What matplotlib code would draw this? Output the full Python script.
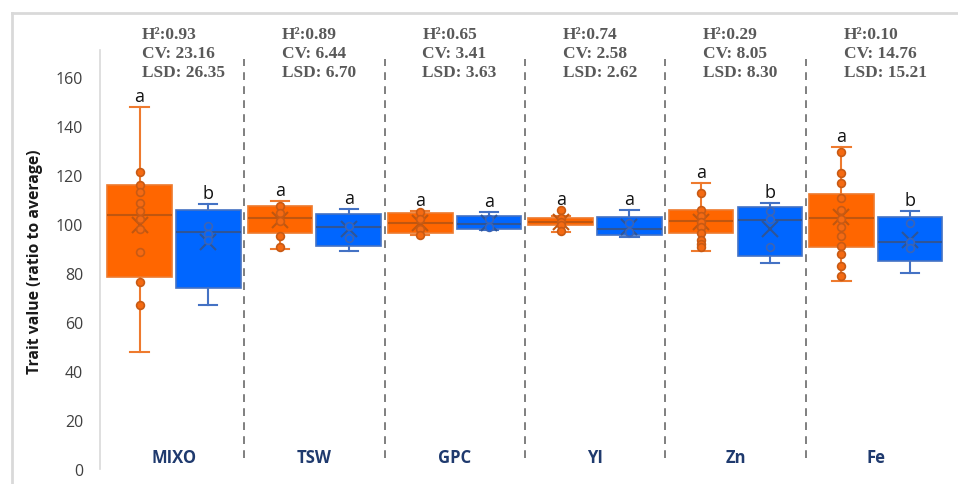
import matplotlib
matplotlib.use("Agg")
import matplotlib.pyplot as plt
from matplotlib.lines import Line2D

# ---- data -------------------------------------------------------------
categories = ["MIXO", "TSW", "GPC", "YI", "Zn", "Fe"]
h2 = [0.93, 0.89, 0.65, 0.74, 0.29, 0.10]
cv = [23.16, 6.44, 3.41, 2.58, 8.05, 14.76]
lsd = [26.35, 6.70, 3.63, 2.62, 8.30, 15.21]

# orange group: whisker low, Q1, median, Q3, whisker high, mean
orange_whislo = [47.6, 89.8, 95.5, 96.6, 88.8, 76.9]
orange_q1 = [78.5, 96.2, 96.2, 99.6, 96.2, 90.5]
orange_med = [103.5, 102.4, 100.3, 101.0, 101.3, 102.4]
orange_q3 = [115.9, 107.2, 104.5, 102.3, 105.8, 112.2]
orange_whishi = [147.6, 109.2, 105.3, 103.4, 116.6, 131.3]
orange_mean = [99.5, 101.6, 100.4, 101.0, 101.0, 102.7]
orange_points = [
    [121.4, 115.9, 112.9, 108.4, 105.4, 102.0, 98.0, 88.4, 76.2, 67.1],
    [107.5, 104.4, 101.3, 95.2, 90.7],
    [104.8, 102.0, 98.0, 95.5],
    [105.8, 102.5, 101.0, 99.5, 97.3],
    [112.5, 105.7, 103.4, 100.7, 98.9, 96.2, 93.6, 91.8, 90.5],
    [129.3, 120.8, 116.6, 110.6, 105.8, 102.0, 98.6, 95.0, 91.1, 87.8, 83.0, 78.9],
]
orange_letters = ["a", "a", "a", "a", "a", "a"]

# blue group
blue_whislo = [67.1, 88.8, 97.6, 94.8, 84.1, 79.9]
blue_q1 = [74.0, 91.1, 98.0, 95.5, 87.1, 84.8]
blue_med = [96.9, 98.6, 100.0, 98.0, 101.6, 92.5]
blue_q3 = [105.8, 104.1, 103.1, 102.7, 106.8, 102.7]
blue_whishi = [108.2, 106.1, 104.8, 105.8, 108.4, 105.2]
blue_mean = [92.5, 98.0, 100.4, 98.6, 98.0, 93.6]
blue_points = [
    [99.0, 96.0, 93.5],
    [99.3, 94.2],
    [102.0, 98.6],
    [100.4, 96.6],
    [105.4, 102.0, 90.5],
    [100.3, 92.5, 90.1],
]
blue_letters = ["b", "a", "a", "a", "b", "b"]

y_ticks = [0, 20, 40, 60, 80, 100, 120, 140, 160]

# ---- styling ----------------------------------------------------------
SANS = ["Open Sans", "DejaVu Sans"]
SERIF = ["Liberation Serif", "DejaVu Serif"]

ORANGE = dict(fill="#FF6600", edge="#EE7A2E", median="#C0560F",
              whisker="#EE7A2E", pt_face="#F56A12", pt_edge="#C85A14")
BLUE = dict(fill="#0066FF", edge="#4472C4", median="#2F5597",
            whisker="#4472C4", pt_face="#0066FF", pt_edge="#3C64B4")

fig = plt.figure(figsize=(9.58, 4.85), dpi=100)
ax = fig.add_axes([100 / 958, 1 - 470 / 485, 846 / 958, 418.95 / 485])
ax.set_xlim(-0.527, 5.5)
ax.set_ylim(0, 171)

# outer frame (only top and left sides fall inside the canvas)
fig.add_artist(Line2D([12 / 958, 12 / 958], [0, 1 - 14 / 485],
                      transform=fig.transFigure, color="#D9D9D9", lw=2))
fig.add_artist(Line2D([12 / 958, 1], [1 - 14 / 485, 1 - 14 / 485],
                      transform=fig.transFigure, color="#D9D9D9", lw=2))

OFFSET = 0.245
WIDTH = 0.46


def draw_group(xpos, whislo, q1, med, q3, whishi, mean, points, letters, sty):
    stats = []
    for i in range(len(xpos)):
        stats.append(dict(whislo=whislo[i], q1=q1[i], med=med[i], q3=q3[i],
                          whishi=whishi[i], mean=mean[i], fliers=[]))
    ax.bxp(stats, positions=xpos, widths=WIDTH, patch_artist=True,
           showmeans=True, showfliers=False, capwidths=0.13,
           boxprops=dict(facecolor=sty["fill"], edgecolor=sty["edge"], lw=1.2),
           medianprops=dict(color=sty["median"], lw=1.5),
           whiskerprops=dict(color=sty["whisker"], lw=1.5),
           capprops=dict(color=sty["whisker"], lw=1.5),
           meanprops=dict(marker="x", markersize=12, markeredgewidth=1.5,
                          markeredgecolor=sty["median"], markerfacecolor="none"),
           zorder=2)
    for i, x in enumerate(xpos):
        ax.plot([x] * len(points[i]), points[i], ls="none", marker="o",
                markersize=5.6, markerfacecolor=sty["pt_face"],
                markeredgecolor=sty["pt_edge"], markeredgewidth=1.2, zorder=3)
        top = max([whishi[i]] + points[i])
        ax.annotate(letters[i], (x, top), xytext=(0, 4.5),
                    textcoords="offset points", ha="center", va="baseline",
                    fontsize=13, family=SANS, color="#111111")


xs = list(range(len(categories)))
draw_group([x - OFFSET for x in xs], orange_whislo, orange_q1, orange_med,
           orange_q3, orange_whishi, orange_mean, orange_points,
           orange_letters, ORANGE)
draw_group([x + OFFSET for x in xs], blue_whislo, blue_q1, blue_med,
           blue_q3, blue_whishi, blue_mean, blue_points, blue_letters, BLUE)

# dashed separators between traits
for x in xs[:-1]:
    ax.plot([x + 0.5, x + 0.5], [4.5, 167.5], ls=(0, (4, 3.2)), lw=1.4,
            color="#7F7F7F", zorder=1)

# trait names inside the plot, near the bottom
for x, name in zip(xs, categories):
    ax.text(x, 4.9, name, ha="center", va="center", fontsize=12,
            fontweight="bold", family=SANS, color="#1F3A6E")

# statistics above each trait
for x, h, c, l in zip(xs, h2, cv, lsd):
    lines = [f"H\u00b2:{h:.2f}", f"CV: {c:.2f}", f"LSD: {l:.2f}"]
    for k, s in enumerate(lines):
        ax.text(x - 0.23, 177.6 - 7.8 * k, s, ha="left", va="center",
                fontsize=12.5, fontweight="bold", family=SERIF,
                color="#595959", clip_on=False)

# axes styling
for side in ["top", "right", "bottom"]:
    ax.spines[side].set_visible(False)
ax.spines["left"].set_color("#D9D9D9")
ax.spines["left"].set_linewidth(1.2)
ax.set_xticks([])
ax.set_yticks(y_ticks)
ax.tick_params(axis="y", length=0, pad=12, labelsize=11.5, labelcolor="#404040")
for lab in ax.get_yticklabels():
    lab.set_family(SANS)
ax.set_ylabel("Trait value (ratio to average)", fontsize=11.3, fontweight="bold",
              family=SANS, color="#1A1A1A")
ax.yaxis.set_label_coords(-0.067, 0.496)

fig.savefig("out.png", dpi=100)
